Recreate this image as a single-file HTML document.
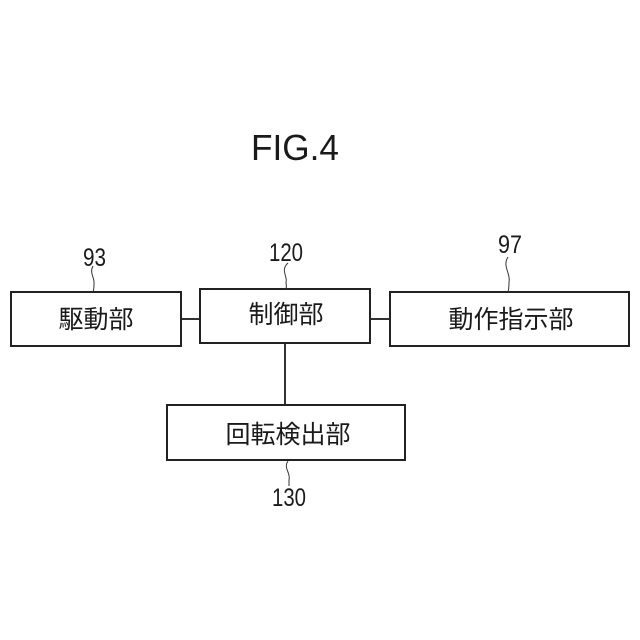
<!DOCTYPE html>
<html><head><meta charset="utf-8">
<style>
html,body{margin:0;padding:0;background:#fff;width:640px;height:640px;overflow:hidden}
svg{display:block}
text{font-family:"Liberation Sans","Noto Sans CJK JP",sans-serif;fill:#1a1a1a}
.j{font-size:25px;text-anchor:middle}
.n{font-size:25px}
rect{fill:#fff;stroke:#222;stroke-width:2}
path,line{fill:none;stroke:#333}
</style></head><body>
<svg width="640" height="640" viewBox="0 0 640 640" xmlns="http://www.w3.org/2000/svg">
<text x="251" y="160" font-size="36" textLength="88" lengthAdjust="spacingAndGlyphs">FIG.4</text>
<line x1="181" y1="319" x2="200" y2="319" stroke-width="2"/>
<line x1="370" y1="319" x2="390" y2="319" stroke-width="2"/>
<line x1="285" y1="344" x2="285" y2="405" stroke-width="2"/>
<rect x="11" y="292" width="170" height="54"/>
<rect x="200" y="289" width="170" height="54"/>
<rect x="390" y="292" width="239" height="54"/>
<rect x="167" y="405" width="238" height="55"/>
<text class="j" x="96" y="328">駆動部</text>
<text class="j" x="286" y="323">制御部</text>
<text class="j" x="511" y="328">動作指示部</text>
<text class="j" x="288" y="443">回転検出部</text>
<text class="n" x="83" y="266" textLength="23" lengthAdjust="spacingAndGlyphs">93</text>
<text class="n" x="269" y="261" textLength="34" lengthAdjust="spacingAndGlyphs">120</text>
<text class="n" x="498" y="253" textLength="24" lengthAdjust="spacingAndGlyphs">97</text>
<text class="n" x="272" y="506" textLength="34" lengthAdjust="spacingAndGlyphs">130</text>
<path d="M93 266C89 273 95 278 94 284C94 287 94 289 93 292" stroke-width="1"/>
<path d="M288 263C280 270 288 277 286 282C286 284 287 286 286 289" stroke-width="1"/>
<path d="M508 257C502 266 511 274 509 282C509 286 509 289 508 292" stroke-width="1"/>
<path d="M288 461C283 468 291 473 289 480C289 482 289 484 289 486" stroke-width="1"/>
</svg>
</body></html>
